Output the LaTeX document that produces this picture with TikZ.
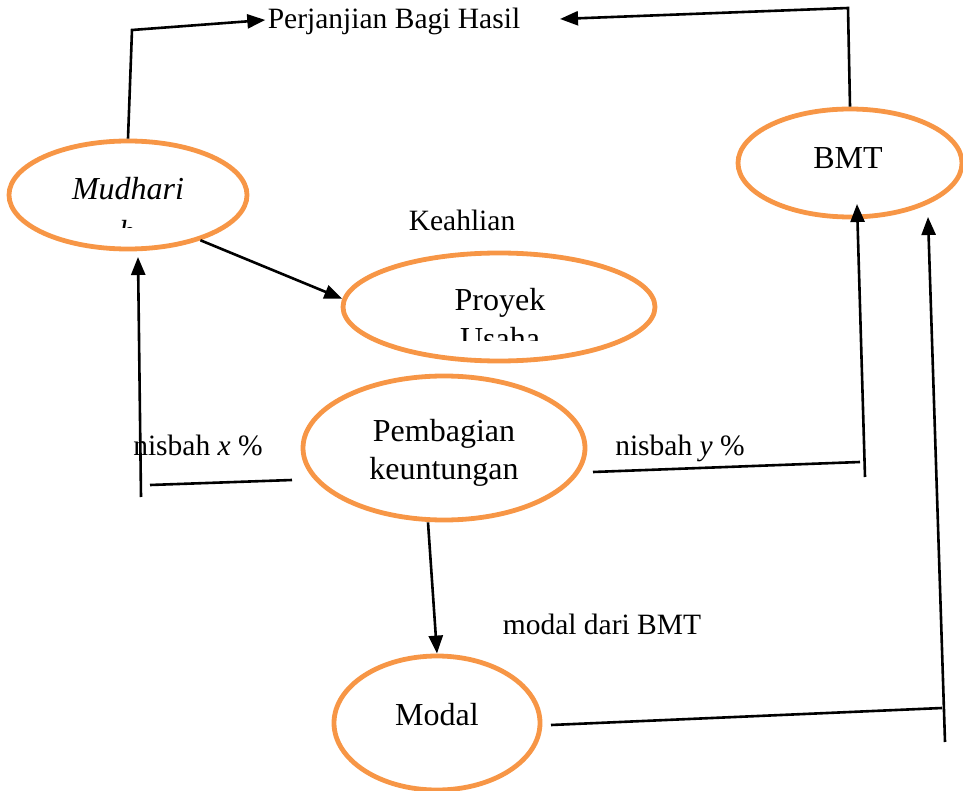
\documentclass[tikz,border=0pt]{standalone}
\usepackage{fontspec}
\setmainfont{Liberation Serif}
\usetikzlibrary{arrows.meta,shapes.geometric}
\definecolor{ovalorange}{RGB}{247,150,70}
\begin{document}
\begin{tikzpicture}[x=1pt,y=-1pt,
  every node/.style={font=\fontsize{29.5}{36}\selectfont},
  oval/.style={draw=ovalorange,line width=4.8pt,ellipse,inner sep=0pt},
  big/.style={font=\fontsize{32}{38}\selectfont},
  conn/.style={line width=2.6pt},
  arr/.style={line width=2.6pt,-{Triangle[length=18pt,width=14pt]}}]
\useasboundingbox (0,0) rectangle (963,791);
% ovals
\node[oval,minimum width=238,minimum height=108] (m) at (128,195) {};
\node[oval,minimum width=312,minimum height=108] (p) at (499,307) {};
\node[oval,minimum width=282,minimum height=144] (k) at (444,448) {};
\node[oval,minimum width=224,minimum height=108] (b) at (850,163) {};
\node[oval,minimum width=206,minimum height=134] (o) at (437,723) {};
% oval texts
\begin{scope}
  \clip (20,150) rectangle (240,228);
  \node[big,anchor=base] (mt) at (128,200) {\itshape Mudhari};
  \node[big,anchor=base] (mt2) at (127,243) {\itshape b};
\end{scope}
\begin{scope}
  \clip (360,260) rectangle (640,340);
  \node[big,anchor=base] (pt) at (500,311) {Proyek};
  \node[big,anchor=base] (pt2) at (500,349) {Usaha};
\end{scope}
\node[big,anchor=base] (kt1) at (444,441) {Pembagian};
\node[big,anchor=base] (kt2) at (444,479) {keuntungan};
\node[big,anchor=base] (bt) at (848,169) {BMT};
\node[big,anchor=base] (ot) at (437,725) {Modal};
% labels
\node[anchor=base] (pbh) at (394,29) {Perjanjian Bagi Hasil};
\node[anchor=base] (kh) at (462,231) {Keahlian};
\node[anchor=base] (nx) at (198,455) {nisbah \textit{x} \%};
\node[anchor=base] (ny) at (680,455) {nisbah \textit{y} \%};
\node[anchor=base] (md) at (602,634) {modal dari BMT};
% free ends
\coordinate (c1) at (132,30);
\coordinate (c2) at (848,8);
\coordinate (c3) at (560,19);
\coordinate (x1) at (292,480);
\coordinate (x2) at (150,485);
\coordinate (x3) at (141,497);
\coordinate (x4) at (138,257);
\coordinate (y1) at (593,472);
\coordinate (y2) at (860,462);
\coordinate (y3) at (865,477);
\coordinate (y4) at (857,204);
\coordinate (z1) at (551,725);
\coordinate (z2) at (942,708);
\coordinate (z3) at (945,742);
\coordinate (z4) at (928,217);
% connectors
\draw[arr] (m.north) -- (c1) -- ([xshift=1]pbh.west |- 0,20);
\draw[arr] (b.north) -- (c2) -- (c3);
\draw[arr] (m.-32) -- (p.177);
\draw[conn] (x1) -- (x2);
\draw[arr] (x3) -- (x4);
\draw[conn] (y1) -- (y2);
\draw[arr] (y3) -- (y4);
\draw[arr] ([xshift=-16]k.south) -- (o.north);
\draw[conn] (z1) -- (z2);
\draw[arr] (z3) -- (z4);
\end{tikzpicture}
\end{document}
